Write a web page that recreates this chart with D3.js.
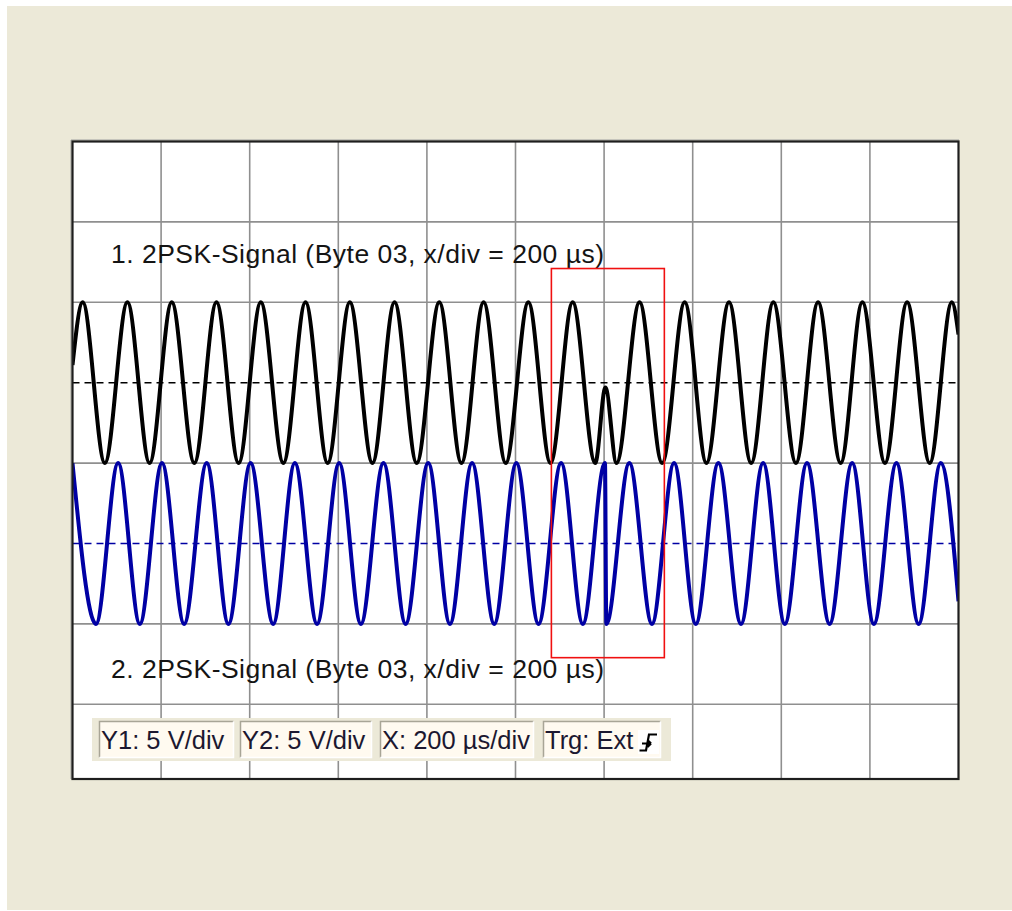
<!DOCTYPE html>
<html>
<head>
<meta charset="utf-8">
<script src="https://cdn.jsdelivr.net/npm/d3@7"></script>
<style>
  html, body { margin: 0; padding: 0; background: #ffffff; }
  svg { display: block; }
  text { font-family: "Liberation Sans", Arial, sans-serif; }
</style>
</head>
<body>
<svg id="scope" width="1012" height="911"></svg>
<script>
// Channel 1: sample times (µs) and voltage relative to its reference level
const ch1Time = [0, 23, 73, 124, 174, 224, 275, 325, 375, 425, 476, 526, 576, 626, 677, 727, 777, 828, 878, 928, 978, 1029, 1079, 1129, 1180,
                 1203, 1228,
                 1280, 1331, 1382, 1431, 1482, 1532, 1582, 1633, 1683, 1734, 1783, 1834, 1884, 1935, 1985, 2000];
const ch1Volt = [1.1, 5, -5, 5, -5, 5, -5, 5, -5, 5, -5, 5, -5, 5, -5, 5, -5, 5, -5, 5, -5, 5, -5, 5, -5,
                 -0.3, -5,
                 5, -5, 5, -5, 5, -5, 5, -5, 5, -5, 5, -5, 5, -5, 5, 3];

// Channel 2: sample times (µs) and voltage relative to its reference level
const ch2Time = [0, 53, 103, 152, 202, 252, 303, 352, 402, 453, 502, 552, 602, 651, 702, 752, 803, 852, 902, 952, 1002, 1052, 1103, 1152, 1202,
                 1205,
                 1257, 1308, 1358, 1407, 1458, 1509, 1559, 1608, 1658, 1709, 1760, 1809, 1860, 1910, 1960, 2000];
const ch2Volt = [5, -5, 5, -5, 5, -5, 5, -5, 5, -5, 5, -5, 5, -5, 5, -5, 5, -5, 5, -5, 5, -5, 5, -5, 5,
                 -5,
                 5, -5, 5, -5, 5, -5, 5, -5, 5, -5, 5, -5, 5, -5, 5, -3.6];

// Reference (zero) levels of the two channels on the screen, in volts
const refLevels = [5, -5];
// Horizontal and vertical scale settings
const timeTicks = d3.range(0, 2001, 200);     // 200 µs/div
const voltTicks = d3.range(-20, 21, 5);       // 5 V/div

// Highlighted region around the phase jump: [t0, t1] µs, [vTop, vBottom] V
const markTime = [1081, 1336];
const markVolt = [12.1, -12.1];

const titles = ["1. 2PSK-Signal (Byte 03, x/div = 200 µs)", "2. 2PSK-Signal (Byte 03, x/div = 200 µs)"];
const statusLabels = ["Y1: 5 V/div", "Y2: 5 V/div", "X: 200 µs/div", "Trg: Ext"];

const svg = d3.select("#scope");

// window background
svg.append("rect").attr("x", 7).attr("y", 6).attr("width", 1005).attr("height", 904).attr("fill", "#ece9d8");

// screen geometry
const scrL = 72.5, scrR = 958.5, scrT = 141.5, scrB = 779;
const x = d3.scaleLinear().domain([0, 2000]).range([scrL, scrR]);
const y = d3.scaleLinear().domain([20, -20]).range([scrT, scrT + 8 * 80.4]);

svg.append("defs").append("clipPath").attr("id", "screen")
  .append("rect").attr("x", scrL).attr("y", scrT).attr("width", scrR - scrL).attr("height", scrB - scrT);

svg.append("rect").attr("x", scrL).attr("y", scrT).attr("width", scrR - scrL).attr("height", scrB - scrT)
  .attr("fill", "#ffffff");

const screen = svg.append("g").attr("clip-path", "url(#screen)");

// grid
const grid = screen.append("g").attr("stroke", "#8f8f8f").attr("stroke-width", 1.6);
grid.selectAll("line.v").data(timeTicks.slice(1, -1)).join("line")
  .attr("x1", d => x(d)).attr("x2", d => x(d)).attr("y1", scrT).attr("y2", scrB);
grid.selectAll("line.h").data(voltTicks.filter(v => v > -20 && v < 20 && !refLevels.includes(v))).join("line")
  .attr("y1", d => y(d)).attr("y2", d => y(d)).attr("x1", scrL).attr("x2", scrR);

// reference level lines (dashed) in the channel colours
const chColors = ["#000000", "#0000a4"];
screen.selectAll("line.ref").data(refLevels).join("line")
  .attr("x1", scrL).attr("x2", scrR)
  .attr("y1", d => y(d)).attr("y2", d => y(d))
  .attr("stroke", (d, i) => chColors[i]).attr("stroke-width", 1.6)
  .attr("stroke-dasharray", "7,5");

// traces
const traces = [
  { t: ch1Time, v: ch1Volt, ref: refLevels[0], color: chColors[0] },
  { t: ch2Time, v: ch2Volt, ref: refLevels[1], color: chColors[1] }
];
const line = d3.line().curve(d3.curveMonotoneX);
traces.forEach(tr => {
  const pts = tr.t.map((t, i) => [x(t), y(tr.ref + tr.v[i])]);
  screen.append("path").attr("d", line(pts))
    .attr("fill", "none").attr("stroke", tr.color)
    .attr("stroke-width", 4).attr("stroke-linejoin", "round");
});

// titles
const titleY = [263, 678];
svg.selectAll("text.title").data(titles).join("text")
  .attr("x", 111).attr("y", (d, i) => titleY[i])
  .attr("font-size", 26.5).attr("fill", "#141414")
  .attr("textLength", 493).attr("lengthAdjust", "spacing")
  .text(d => d);

// status bar
const bar = svg.append("g");
bar.append("rect").attr("x", 92).attr("y", 718).attr("width", 579).attr("height", 43).attr("fill", "#ece9d8");
const boxes = [[99, 234], [240, 372], [380, 534], [543, 661]];
boxes.forEach((b, i) => {
  const g = bar.append("g");
  g.append("rect").attr("x", b[0]).attr("y", 721).attr("width", b[1] - b[0]).attr("height", 37).attr("fill", "#fffaf0");
  g.append("path").attr("d", `M${b[0] + 0.5},757.5 V721.5 H${b[1] - 0.5}`).attr("fill", "none").attr("stroke", "#a8a596").attr("stroke-width", 1.5);
  g.append("path").attr("d", `M${b[0] + 0.5},757.5 H${b[1] - 0.5} V721.5`).attr("fill", "none").attr("stroke", "#ffffff").attr("stroke-width", 1.5);
  g.append("text").attr("x", b[0] + 2).attr("y", 749).attr("font-size", 25.5).attr("fill", "#1c1830").text(statusLabels[i]);
});
// trigger edge symbol
bar.append("rect").attr("x", 638).attr("y", 730).attr("width", 21).attr("height", 24).attr("fill", "#ffffff");
bar.append("path").attr("d", "M657,734.5 H649 L646,750.5 H639.5 M642,743.5 H651 M651,743.5 L647.5,740 M651,743.5 L647.5,747")
  .attr("fill", "none").attr("stroke", "#000").attr("stroke-width", 2.2);

// screen border
svg.append("path").attr("d", `M${scrL - 1.5},${scrB} V${scrT - 1.5} H${scrR + 0.5}`).attr("fill", "none").attr("stroke", "#a0a0a0").attr("stroke-width", 1);
svg.append("rect").attr("x", scrL).attr("y", scrT).attr("width", scrR - scrL).attr("height", scrB - scrT)
  .attr("fill", "none").attr("stroke", "#1e1e1e").attr("stroke-width", 2.2);

// highlight box around the phase jump
svg.append("rect")
  .attr("x", x(markTime[0])).attr("y", y(markVolt[0]))
  .attr("width", x(markTime[1]) - x(markTime[0])).attr("height", y(markVolt[1]) - y(markVolt[0]))
  .attr("fill", "none").attr("stroke", "#f01010").attr("stroke-width", 1.6);
</script>
</body>
</html>
